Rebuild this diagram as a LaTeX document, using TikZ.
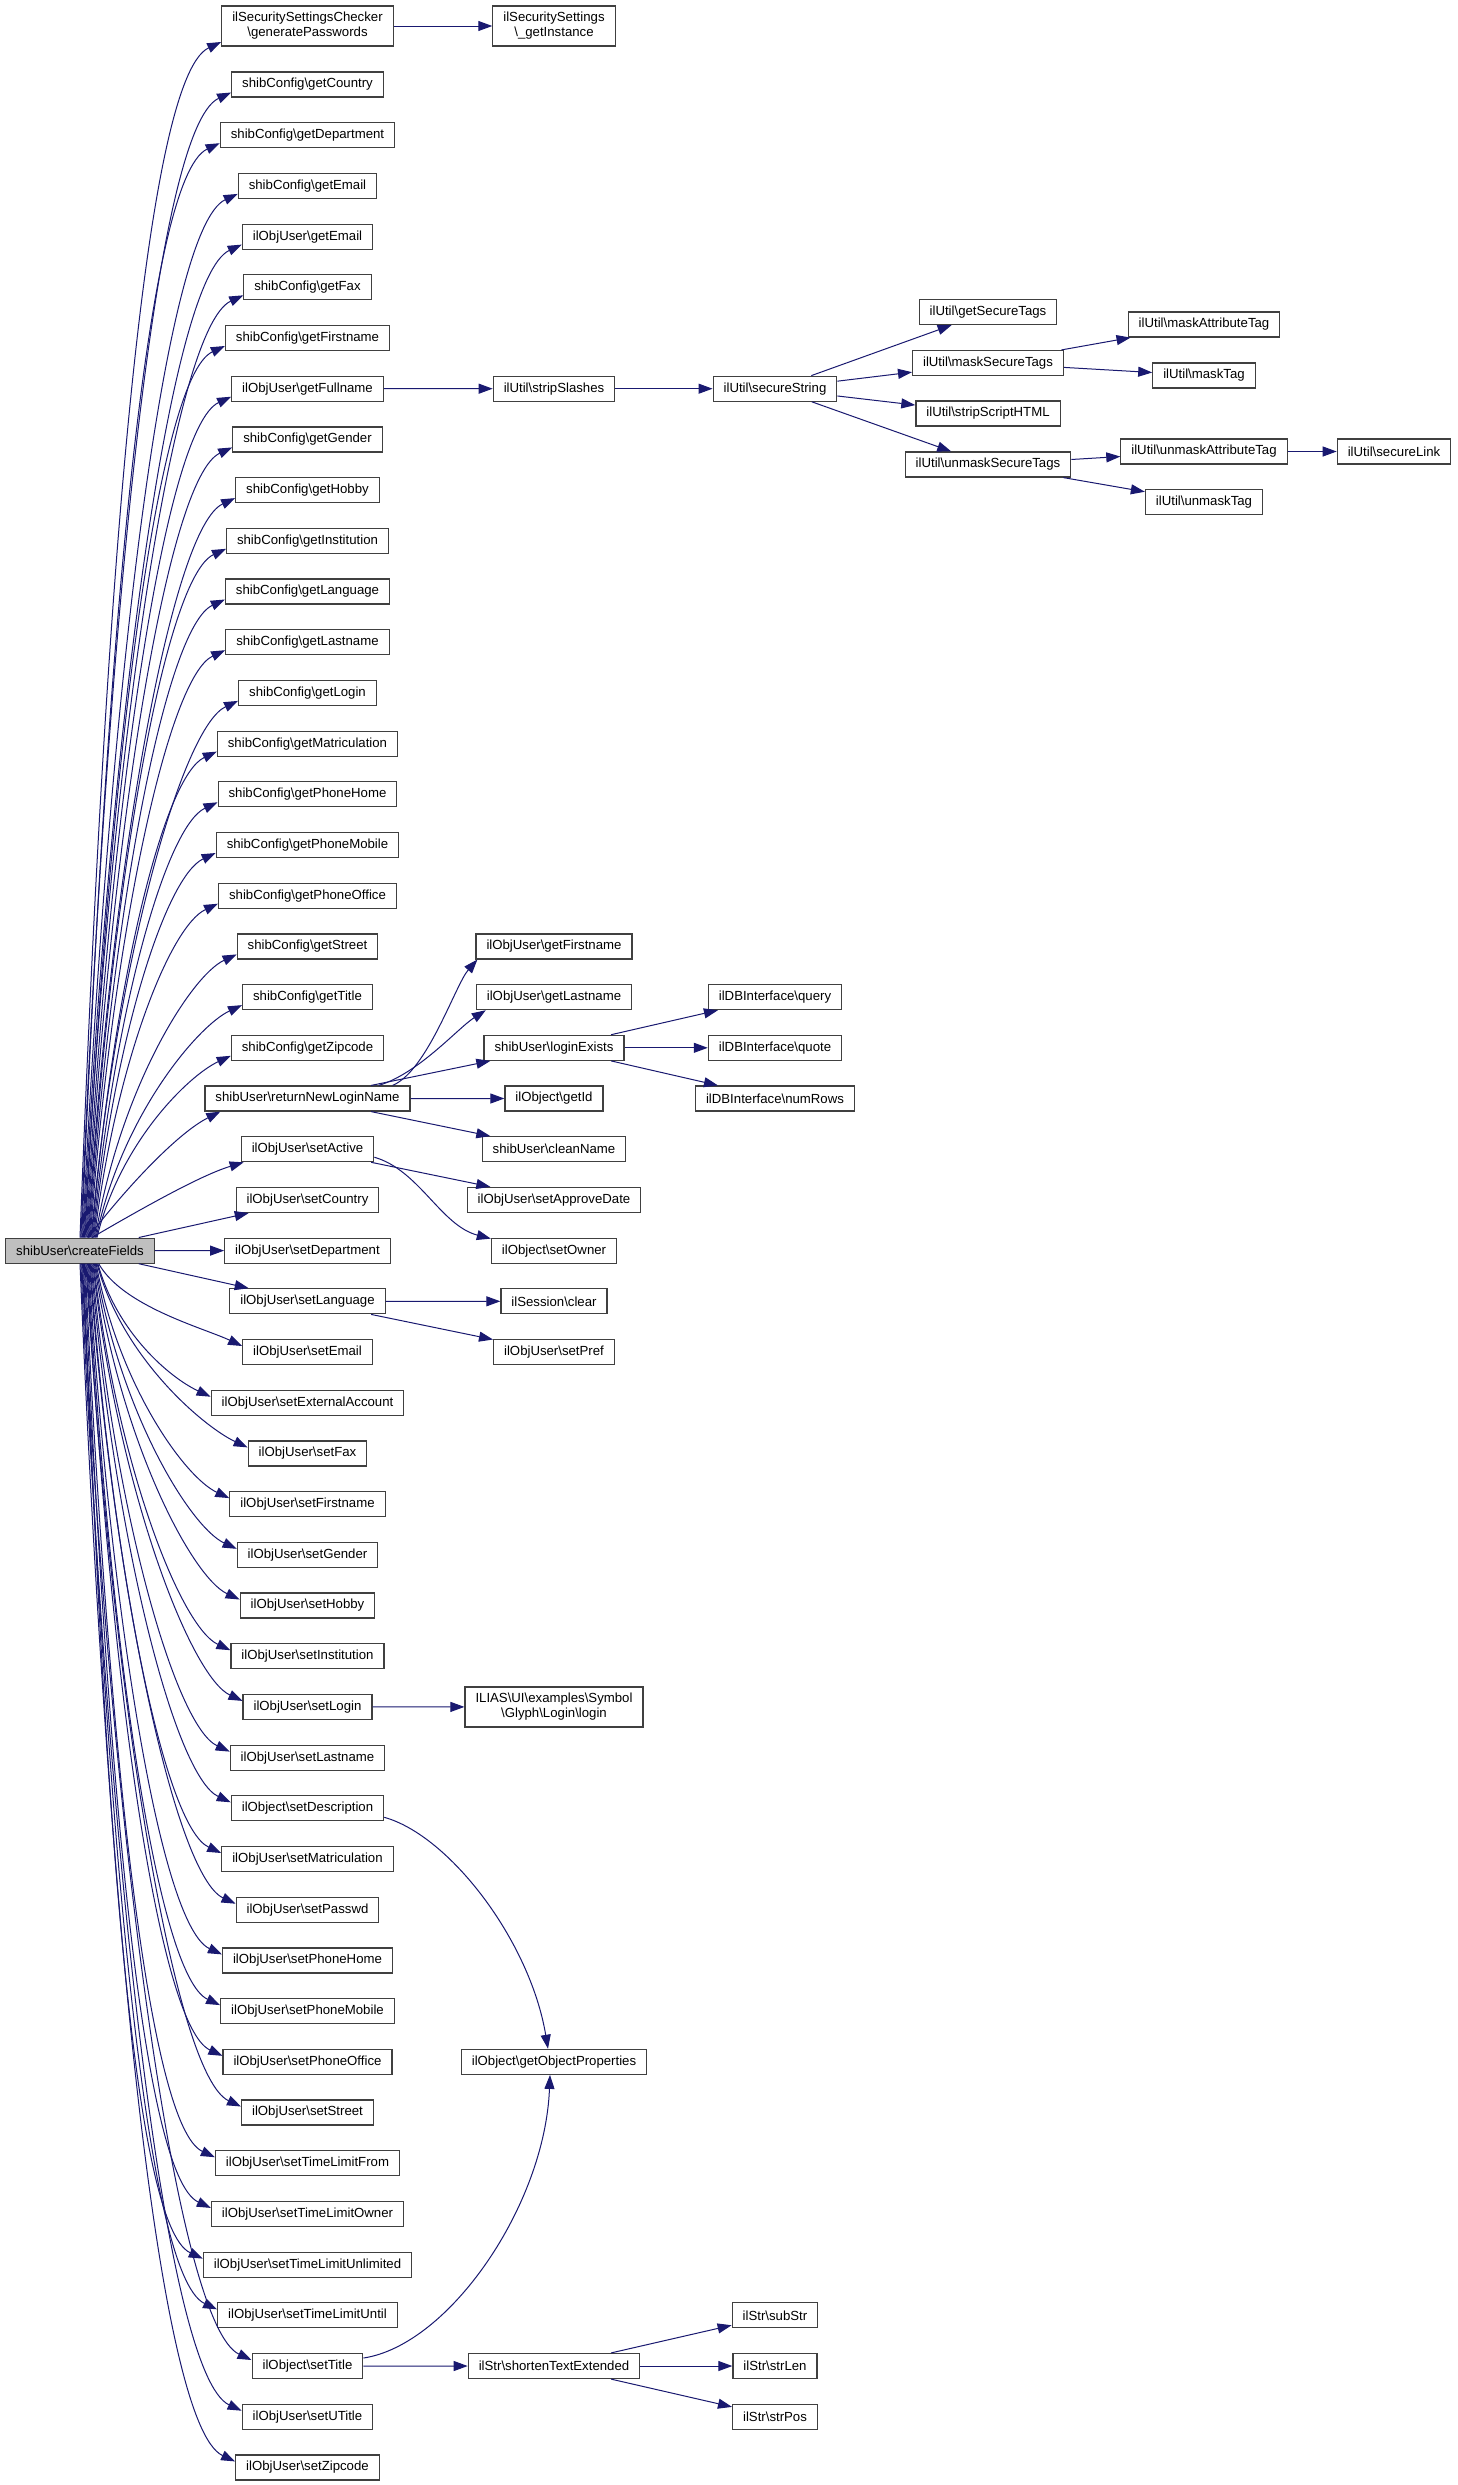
\documentclass[tikz,border=0pt]{standalone}
\usepackage{fontspec}
\setmainfont{Liberation Sans}
\usetikzlibrary{arrows.meta,calc}
\definecolor{edgeblue}{HTML}{191970}
\definecolor{nodeline}{HTML}{404040}
\definecolor{rootfill}{HTML}{BFBFBF}
\newcommand\BS{\textbackslash}
\newcommand\fanedge[5]{%
  \draw[e] let \p1=($(root.#1)+({#2},0)$), \p2=($(#3.west)+(0,#4)$),
     \n1={abs(\y2-\y1)}, \n2={40+0.04*\n1} in
     (\p1) .. controls ({\x1+0.17*(\x2-\x1)},{\y1+0.52*(\y2-\y1)})
     and ({\x2-0.9*\n2},{\y2-0.42*\n2*(#5)}) .. (\p2);}
\begin{document}
\begin{tikzpicture}[x=1pt,y=-1pt,
  nd/.style={draw=nodeline, line width=1.2pt, fill=white, rectangle,
    minimum height=25pt, inner xsep=10.5pt, inner ysep=1pt,
    font=\fontsize{13.2}{15}\selectfont, align=center, text=black},
  tall/.style={minimum height=40pt},
  e/.style={draw=edgeblue, line width=1pt, -{Triangle[length=14pt,width=10pt]}}]
\fill[white] (0,0) rectangle (1457,2485);
\useasboundingbox (0,0) rectangle (1457,2485);

% root
\node[nd, fill=rootfill] (root) at (80,1250.6) {shibUser\BS createFields};

% column 1
\node[nd, tall] (gp) at (307.5,26) {ilSecuritySettingsChecker\\\BS generatePasswords};
\foreach \k/\lbl in {2/shibConfig\BS getCountry,3/shibConfig\BS getDepartment,4/shibConfig\BS getEmail,5/ilObjUser\BS getEmail,6/shibConfig\BS getFax,7/shibConfig\BS getFirstname,8/ilObjUser\BS getFullname,9/shibConfig\BS getGender,10/shibConfig\BS getHobby,11/shibConfig\BS getInstitution,12/shibConfig\BS getLanguage,13/shibConfig\BS getLastname,14/shibConfig\BS getLogin,15/shibConfig\BS getMatriculation,16/shibConfig\BS getPhoneHome,17/shibConfig\BS getPhoneMobile,18/shibConfig\BS getPhoneOffice,19/shibConfig\BS getStreet,20/shibConfig\BS getTitle,21/shibConfig\BS getZipcode,22/shibUser\BS returnNewLoginName,23/ilObjUser\BS setActive,24/ilObjUser\BS setCountry,25/ilObjUser\BS setDepartment,26/ilObjUser\BS setLanguage,27/ilObjUser\BS setEmail,28/ilObjUser\BS setExternalAccount,29/ilObjUser\BS setFax,30/ilObjUser\BS setFirstname,31/ilObjUser\BS setGender,32/ilObjUser\BS setHobby,33/ilObjUser\BS setInstitution,34/ilObjUser\BS setLogin,35/ilObjUser\BS setLastname,36/ilObject\BS setDescription,37/ilObjUser\BS setMatriculation,38/ilObjUser\BS setPasswd,39/ilObjUser\BS setPhoneHome,40/ilObjUser\BS setPhoneMobile,41/ilObjUser\BS setPhoneOffice,42/ilObjUser\BS setStreet,43/ilObjUser\BS setTimeLimitFrom,44/ilObjUser\BS setTimeLimitOwner,45/ilObjUser\BS setTimeLimitUnlimited,46/ilObjUser\BS setTimeLimitUntil,47/ilObject\BS setTitle,48/ilObjUser\BS setUTitle,49/ilObjUser\BS setZipcode}{%
  \node[nd] (c\k) at (307.5,{84.5+(\k-2)*50.7}) {\lbl};}

% column 2
\node[nd, tall] (gi) at (554,26) {ilSecuritySettings\\\BS\_getInstance};
\node[nd] (ss)  at (554,388.7)  {ilUtil\BS stripSlashes};
\node[nd] (ogf) at (554,946.4)  {ilObjUser\BS getFirstname};
\node[nd] (ogl) at (554,997.1)  {ilObjUser\BS getLastname};
\node[nd] (le)  at (554,1047.8) {shibUser\BS loginExists};
\node[nd] (gid) at (554,1098.5) {ilObject\BS getId};
\node[nd] (cn)  at (554,1149.2) {shibUser\BS cleanName};
\node[nd] (sad) at (554,1199.9) {ilObjUser\BS setApproveDate};
\node[nd] (so)  at (554,1250.6) {ilObject\BS setOwner};
\node[nd] (scl) at (554,1301.3) {ilSession\BS clear};
\node[nd] (sp)  at (554,1352.0) {ilObjUser\BS setPref};
\node[nd, tall] (lg) at (554,1706.9) {ILIAS\BS UI\BS examples\BS Symbol\\\BS Glyph\BS Login\BS login};
\node[nd] (gop) at (554,2061.8) {ilObject\BS getObjectProperties};
\node[nd] (ste) at (554,2366.0) {ilStr\BS shortenTextExtended};

% column 3
\node[nd] (sec)  at (775,388.7)  {ilUtil\BS secureString};
\node[nd] (q)    at (775,997.1)  {ilDBInterface\BS query};
\node[nd] (qu)   at (775,1047.8) {ilDBInterface\BS quote};
\node[nd] (nr)   at (775,1098.5) {ilDBInterface\BS numRows};
\node[nd] (sub)  at (775,2315.3) {ilStr\BS subStr};
\node[nd] (sl)   at (775,2366.0) {ilStr\BS strLen};
\node[nd] (spos) at (775,2416.7) {ilStr\BS strPos};

% column 4
\node[nd] (gst) at (988,312)   {ilUtil\BS getSecureTags};
\node[nd] (mst) at (988,363)   {ilUtil\BS maskSecureTags};
\node[nd] (ssh) at (988,413.5) {ilUtil\BS stripScriptHTML};
\node[nd] (ust) at (988,464.5) {ilUtil\BS unmaskSecureTags};

% column 5 / 6
\node[nd] (mat)  at (1204,324.5) {ilUtil\BS maskAttributeTag};
\node[nd] (mt)   at (1204,375.5) {ilUtil\BS maskTag};
\node[nd] (uat)  at (1204,451.5) {ilUtil\BS unmaskAttributeTag};
\node[nd] (ut)   at (1204,502)   {ilUtil\BS unmaskTag};
\node[nd] (secl) at (1394,451.5) {ilUtil\BS secureLink};

% fan edges from root
\fanedge{north}{0}{gp}{16}{1}
\foreach \k in {2,...,21}{\fanedge{north}{0.85*(\k-1)}{c\k}{8}{1}}
\foreach \k in {27,...,49}{\fanedge{south}{0.85*(49-\k)}{c\k}{-6}{-1}}
\draw[e] ($(root.north)+(8,0)$) .. controls +(44,-57) and +(-40,20) .. ($(c22.south west)+(16,0)$);
\draw[e] ($(root.north)+(12,0)$) .. controls +(60,-35) and +(-40,12) .. ($(c23.south west)+(3,0)$);
\draw[e] (root) -- (c24);
\draw[e] (root) -- (c25);
\draw[e] (root) -- (c26);

% other edges
\draw[e] (gp) -- (gi);
\draw[e] (c8) -- (ss);
\draw[e] (ss) -- (sec);
\draw[e] (sec) -- (gst);
\draw[e] (sec) -- (mst);
\draw[e] (sec) -- (ssh);
\draw[e] (sec) -- (ust);
\draw[e] (mst) -- (mat);
\draw[e] (mst) -- (mt);
\draw[e] (ust) -- (uat);
\draw[e] (ust) -- (ut);
\draw[e] (uat) -- (secl);

\draw[e] ($(c22.north east)+(-18,0)$) .. controls +(35,-15) and +(-22,25) .. ($(ogf.south west)+(2,0)$);
\draw[e] ($(c22.north east)+(-32,0)$) .. controls +(40,-12) and +(-28,18) .. ($(ogl.south west)+(10,0)$);
\draw[e] (c22) -- (le);
\draw[e] (c22) -- (gid);
\draw[e] (c22) -- (cn);
\draw[e] (le) -- (q);
\draw[e] (le) -- (qu);
\draw[e] (le) -- (nr);
\draw[e] (c23) -- (sad);
\draw[e] ($(c23.east)+(0,8)$) .. controls +(45,13) and +(-50,-13) .. ($(so.west)+(0,-12)$);
\draw[e] (c26) -- (scl);
\draw[e] (c26) -- (sp);
\draw[e] (c34) -- (lg);
\draw[e] ($(c36.east)+(0,9)$) .. controls +(65,18) and +(-18,-108) .. ($(gop.north)+(-6,0)$);
\draw[e] ($(c47.east)+(0,-8)$) .. controls +(86,-13) and +(-5,130) .. ($(gop.south)+(-4,0)$);
\draw[e] (c47) -- (ste);
\draw[e] (ste) -- (sub);
\draw[e] (ste) -- (sl);
\draw[e] (ste) -- (spos);
\end{tikzpicture}
\end{document}
